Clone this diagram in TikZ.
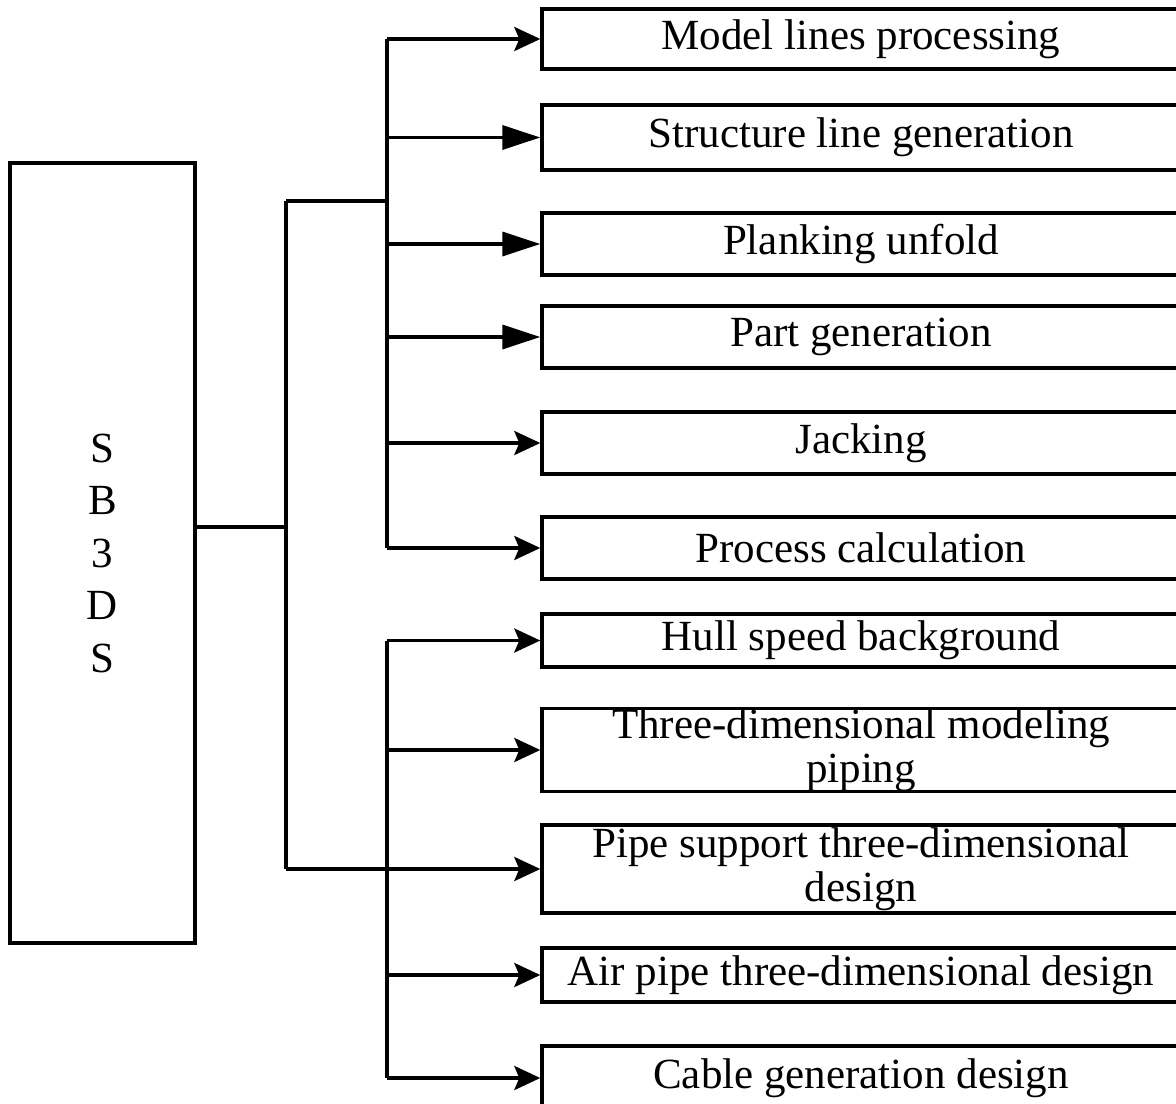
\documentclass[tikz,border=0pt]{standalone}
\usepackage{fontspec}
\setmainfont{Liberation Serif}
\usepackage{tikz}
\usetikzlibrary{arrows.meta, positioning}
\tikzset{
  mainbox/.style={rectangle, draw=black, line width=1.7pt,
    minimum width=92.5pt, minimum height=390pt, inner sep=0pt,
    align=center, font=\fontsize{21.5}{26.25}\selectfont},
  item/.style={rectangle, draw=black, line width=1.7pt,
    minimum width=319pt, inner sep=0pt, align=center,
    font=\fontsize{21.5}{22}\selectfont},
  arrow/.style={-{Stealth[length=13pt, width=12pt, inset=2.5pt]}, line width=1.7pt},
  bigarrow/.style={-{Triangle[length=19pt, width=12pt]}, line width=1.7pt},
  line/.style={line width=1.7pt}
}
\begin{document}
\begin{tikzpicture}[x=0.5pt, y=-0.5pt]
  \useasboundingbox (0,0) rectangle (1176,1103);

  % Main system block
  \node[mainbox] (sb3ds) at (102.5,553) {S\\B\\3\\D\\S};

  % Hull side modules
  \node[item, minimum height=30pt] (lines) at (861,39) {Model lines processing};
  \node[item, minimum height=32.5pt] (struct) at (861,137.5) {Structure line generation};
  \node[item, minimum height=31pt] (plank) at (861,244) {Planking unfold};
  \node[item, minimum height=31pt] (part) at (861,337) {Part generation};
  \node[item, minimum height=31pt] (jack) at (861,443) {Jacking};
  \node[item, minimum height=31pt] (calc) at (861,548) {Process calculation};

  % Outfitting modules
  \node[item, minimum height=26.5pt] (hull) at (861,640.5) {Hull speed background};
  \node[item, minimum height=40pt] (piping) at (861,750) {Three-dimensional modeling\\piping};
  \node[item, minimum height=44pt] (support) at (861,869) {Pipe support three-dimensional\\design};
  \node[item, minimum height=27pt] (air) at (861,975) {Air pipe three-dimensional design};
  \node[item, minimum height=32pt] (cable) at (861,1078) {Cable generation design};

  % Trunk from main block
  \coordinate (jn) at (286,527);
  \coordinate (top) at (286,201);
  \draw[line] (sb3ds.east |- jn) -- (jn);
  \draw[line] (top) -- (top |- support.west);
  \draw[arrow] (top |- support.west) -- (support.west);

  % Upper bus
  \coordinate (ubus) at (387,201);
  \draw[line] (top) -- (ubus);
  \draw[line] (ubus |- lines.west) -- (ubus |- calc.west);
  \draw[arrow] (ubus |- lines.west) -- (lines.west);
  \draw[bigarrow] (ubus |- struct.west) -- (struct.west);
  \draw[bigarrow] (ubus |- plank.west) -- (plank.west);
  \draw[bigarrow] (ubus |- part.west) -- (part.west);
  \draw[arrow] (ubus |- jack.west) -- (jack.west);
  \draw[arrow] (ubus |- calc.west) -- (calc.west);

  % Lower bus
  \coordinate (lbus) at (387,632);
  \draw[line] (lbus |- hull.west) -- (lbus |- cable.west);
  \draw[arrow] (lbus |- hull.west) -- (hull.west);
  \draw[arrow] (lbus |- piping.west) -- (piping.west);
  \draw[arrow] (lbus |- air.west) -- (air.west);
  \draw[arrow] (lbus |- cable.west) -- (cable.west);
\end{tikzpicture}
\end{document}
